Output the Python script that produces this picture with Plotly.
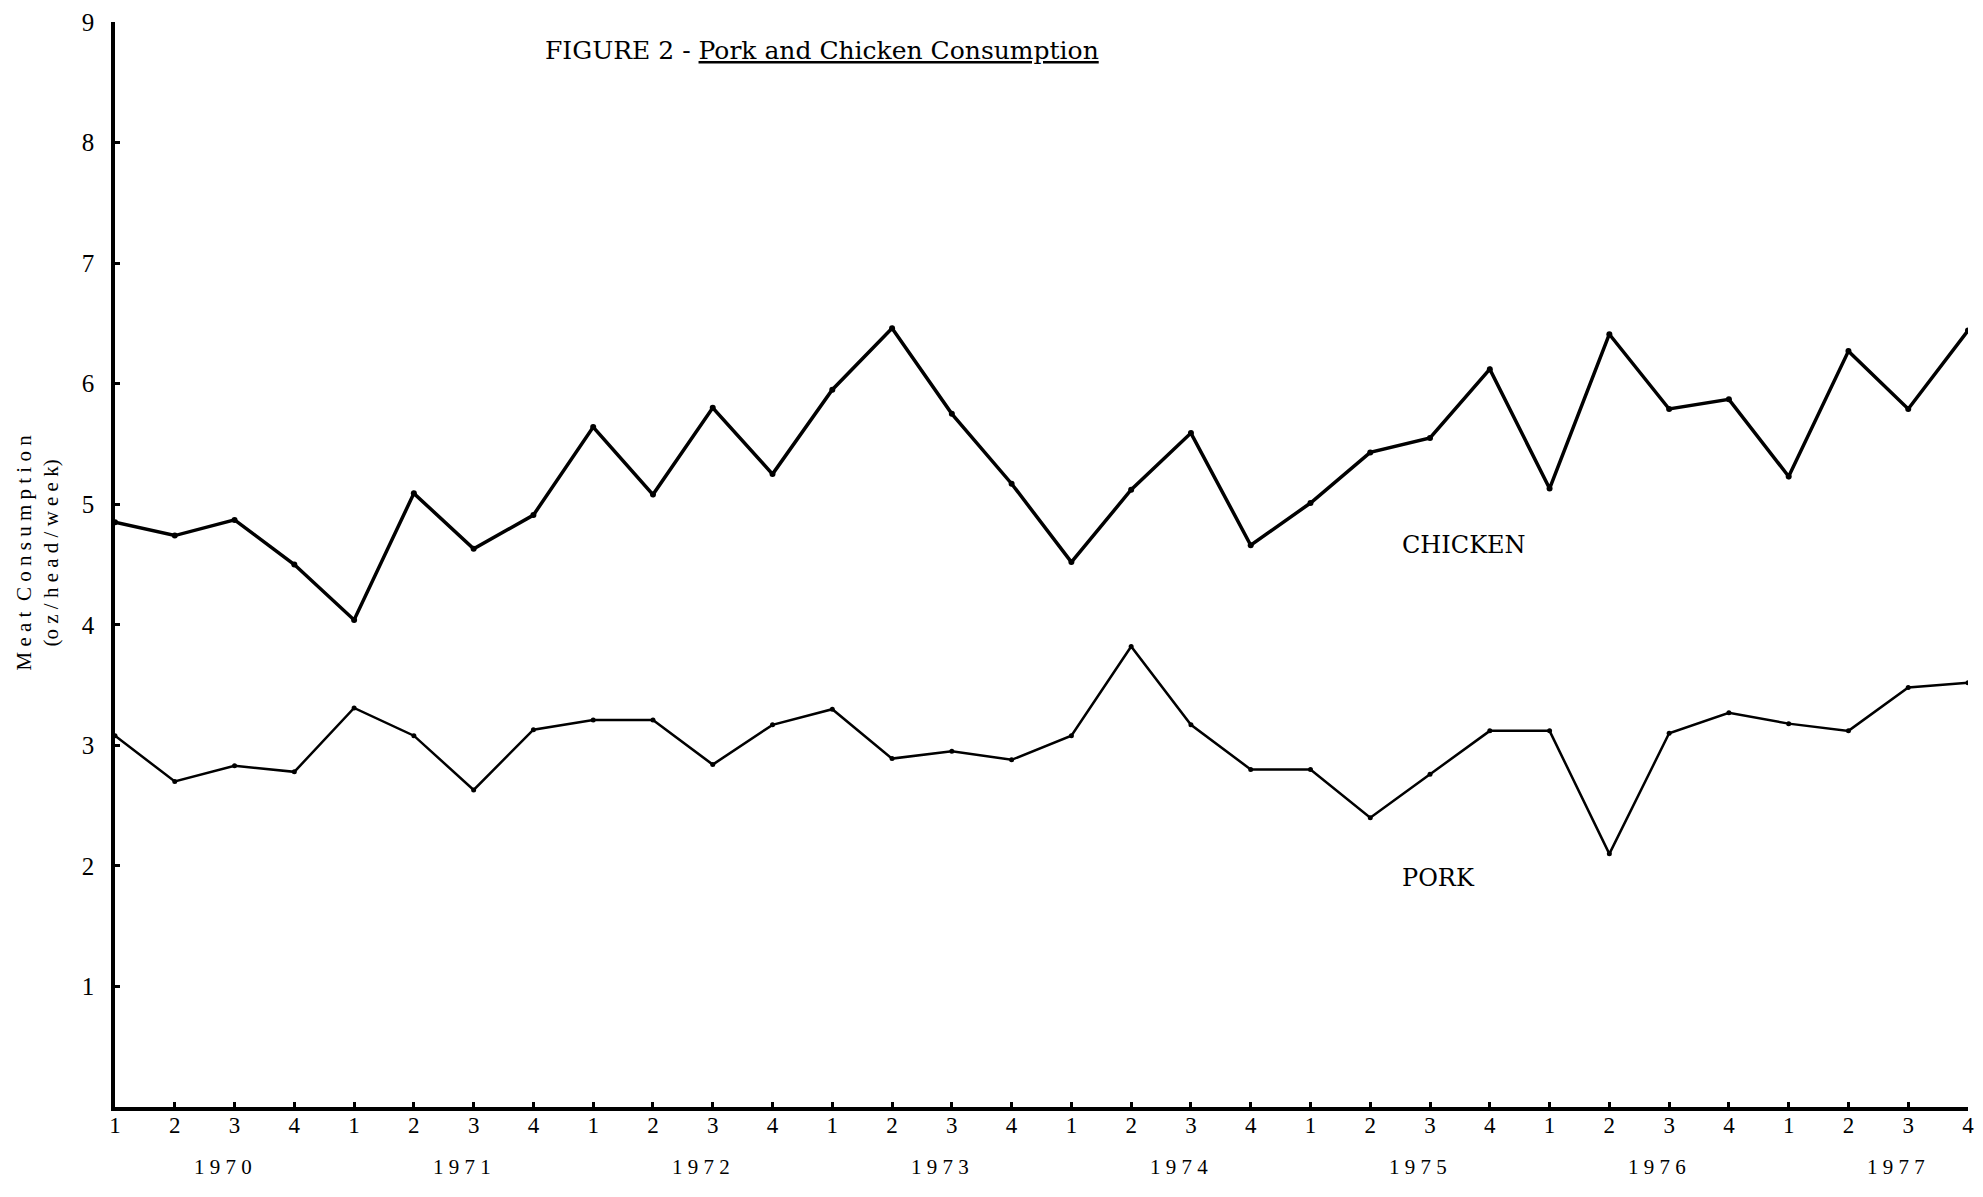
import plotly.graph_objects as go

years = ["1970", "1971", "1972", "1973", "1974", "1975", "1976", "1977"]
quarters = ["1", "2", "3", "4"]
quarter_labels = [q for y in years for q in quarters]

chicken = [4.85, 4.74, 4.87, 4.50, 4.04, 5.09, 4.63, 4.91,
           5.64, 5.08, 5.80, 5.25, 5.95, 6.46, 5.75, 5.17,
           4.52, 5.12, 5.59, 4.66, 5.01, 5.43, 5.55, 6.12,
           5.13, 6.41, 5.79, 5.87, 5.23, 6.27, 5.79, 6.44]
pork = [3.08, 2.70, 2.83, 2.78, 3.31, 3.08, 2.63, 3.13,
        3.21, 3.21, 2.84, 3.17, 3.30, 2.89, 2.95, 2.88,
        3.08, 3.82, 3.17, 2.80, 2.80, 2.40, 2.76, 3.12,
        3.12, 2.10, 3.10, 3.27, 3.18, 3.12, 3.48, 3.52]
y_ticks = [1, 2, 3, 4, 5, 6, 7, 8, 9]

x = list(range(len(quarter_labels)))
FONT = "Liberation Serif"
WIDE = "DejaVu Serif"

fig = go.Figure()
fig.add_trace(go.Scatter(x=x, y=chicken, mode="lines+markers", name="CHICKEN",
                         line=dict(color="black", width=3.5),
                         marker=dict(color="black", size=6)))
fig.add_trace(go.Scatter(x=x, y=pork, mode="lines+markers", name="PORK",
                         line=dict(color="black", width=2.5),
                         marker=dict(color="black", size=5)))

fig.update_layout(
    width=1967, height=1181,
    paper_bgcolor="white", plot_bgcolor="white",
    showlegend=False,
    margin=dict(l=107, r=4, t=1, b=82),
    font=dict(family=FONT, color="black", size=20),
)
fig.update_xaxes(range=[0, 31], tickmode="array", tickvals=x, ticktext=quarter_labels,
                 showgrid=False, zeroline=False, showline=True, linecolor="black", linewidth=3.5,
                 ticks="inside", ticklen=5, tickwidth=3, tickcolor="black",
                 ticklabeloverflow="allow", ticklabelstandoff=-5,
                 tickfont=dict(family=FONT, size=23))
fig.update_yaxes(range=[0, 9], tickmode="array", tickvals=y_ticks, ticktext=[str(v) for v in y_ticks],
                 showgrid=False, zeroline=False, showline=True, linecolor="black", linewidth=3.5,
                 ticks="inside", ticklen=5, tickwidth=3, tickcolor="black",
                 ticklabelstandoff=12, ticklabeloverflow="allow",
                 tickfont=dict(family=FONT, size=25))

# year labels
for i, yr in enumerate(years):
    fig.add_annotation(x=4 * i + 1.8, y=0, xref="x", yref="y", yshift=-60,
                       text=" ".join(yr), showarrow=False,
                       font=dict(family=FONT, size=21))

# axis title
fig.add_annotation(x=0, y=4.6, xref="paper", yref="y", xshift=-78, xanchor="center",
                   text="M e a t  C o n s u m p t i o n<br>(o z / h e a d / w e e k)",
                   textangle=-90, showarrow=False,
                   font=dict(family=FONT, size=21), align="center")

# title
fig.add_annotation(x=0.231, y=1.0, xref="paper", yref="paper", yshift=-12,
                   text="FIGURE 2 - <u>Pork and Chicken Consumption</u>",
                   showarrow=False, xanchor="left",
                   font=dict(family=WIDE, size=25))

# series labels
fig.add_annotation(x=21.5, y=4.66, xref="x", yref="y", text="CHICKEN", showarrow=False,
                   xanchor="left", font=dict(family=WIDE, size=24))
fig.add_annotation(x=21.5, y=1.9, xref="x", yref="y", text="PORK", showarrow=False,
                   xanchor="left", font=dict(family=WIDE, size=24))

fig.write_html("out.html")
